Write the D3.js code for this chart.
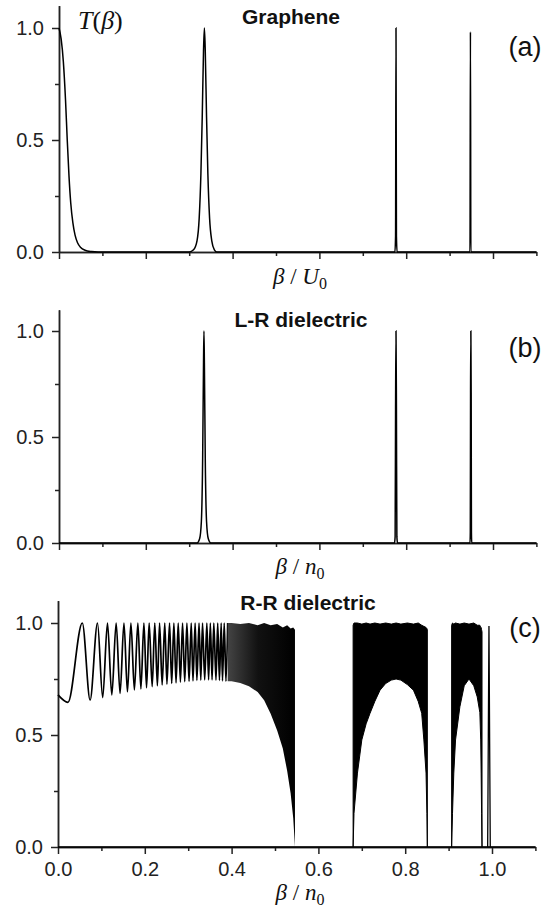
<!DOCTYPE html>
<html>
<head>
<meta charset="utf-8">
<script src="https://cdn.jsdelivr.net/npm/d3@7"></script>
<style>
  body { margin: 0; background: #fff; }
  svg { display: block; }
</style>
</head>
<body>
<div id="chart"></div>
<script>
// ---- data: [beta, T] ----
const grapheneCurve = [
  [0, 1], [0.005, 0.95], [0.01, 0.85], [0.015, 0.68], [0.019, 0.5], [0.023, 0.34],
  [0.027, 0.22], [0.032, 0.13], [0.037, 0.075], [0.043, 0.04], [0.05, 0.02],
  [0.06, 0.008], [0.075, 0.002], [0.09, 0],
  [0.30, 0], [0.31, 0.01], [0.318, 0.05], [0.323, 0.15], [0.327, 0.35], [0.330, 0.6],
  [0.333, 0.9], [0.335, 1.0], [0.337, 0.9], [0.340, 0.6], [0.343, 0.35], [0.347, 0.15],
  [0.352, 0.05], [0.358, 0.01], [0.364, 0],
  [0.774, 0], [0.7755, 0.07], [0.7765, 1.0], [0.7775, 0.07], [0.779, 0],
  [0.947, 0], [0.948, 0.983], [0.949, 0], [1.1, 0]
];

const lrCurve = [
  [0, 0], [0.318, 0], [0.324, 0.02], [0.328, 0.1], [0.331, 0.4], [0.333, 0.85],
  [0.334, 1.0], [0.335, 0.85], [0.337, 0.4], [0.340, 0.1], [0.344, 0.02], [0.350, 0],
  [0.773, 0], [0.7745, 0.03], [0.7755, 0.63], [0.7765, 1.0], [0.7775, 0.63],
  [0.7785, 0.03], [0.780, 0],
  [0.947, 0], [0.9477, 0.05], [0.9483, 0.71], [0.949, 1.0], [0.9497, 0.71],
  [0.9503, 0.05], [0.951, 0], [1.1, 0]
];

// R-R dielectric: resolved oscillations (maxima all reach T = 1)
const rrStart = [0, 0.679];
const rrPeaks = [
  0.056, 0.091, 0.114, 0.134, 0.152, 0.168, 0.184, 0.198, 0.210, 0.223,
  0.234, 0.246, 0.257, 0.267, 0.277, 0.287, 0.297, 0.307, 0.316, 0.325,
  0.333, 0.343, 0.351, 0.359, 0.368, 0.376, 0.383, 0.391
];
const rrTroughs = [
  [0.023, 0.646], [0.074, 0.656], [0.103, 0.667], [0.124, 0.679], [0.143, 0.686],
  [0.160, 0.693], [0.176, 0.701], [0.191, 0.706], [0.204, 0.711], [0.217, 0.716],
  [0.229, 0.720], [0.240, 0.724], [0.251, 0.727], [0.262, 0.730], [0.272, 0.733],
  [0.282, 0.736], [0.292, 0.738], [0.302, 0.740], [0.311, 0.742], [0.320, 0.744],
  [0.329, 0.745], [0.338, 0.746], [0.347, 0.746], [0.355, 0.746], [0.364, 0.745],
  [0.372, 0.744], [0.379, 0.742], [0.387, 0.740]
];

// dense bands: [beta, lower envelope, upper envelope]
const rrBand1 = [
  [0.391, 0.740, 1.0], [0.40, 0.740, 1.0], [0.42, 0.732, 0.995], [0.44, 0.718, 1.0],
  [0.46, 0.692, 0.99], [0.475, 0.655, 1.0], [0.49, 0.595, 0.99], [0.505, 0.52, 0.995],
  [0.518, 0.44, 0.98], [0.528, 0.34, 0.99], [0.536, 0.24, 0.975], [0.542, 0.13, 0.98],
  [0.546, 0, 0.97]
];
const rrBand2 = [
  [0.680, 0, 0.99], [0.682, 0.15, 1.0], [0.690, 0.33, 1.0], [0.700, 0.478, 0.995],
  [0.710, 0.55, 1.0], [0.719, 0.597, 0.995], [0.730, 0.65, 1.0], [0.742, 0.70, 0.995],
  [0.755, 0.73, 1.0], [0.768, 0.745, 0.995], [0.779, 0.75, 1.0], [0.790, 0.745, 0.995],
  [0.805, 0.725, 1.0], [0.819, 0.70, 0.995], [0.830, 0.65, 1.0], [0.838, 0.597, 0.99],
  [0.843, 0.478, 0.985], [0.848, 0.33, 0.98], [0.850, 0.15, 0.975], [0.851, 0, 0.97]
];
const rrBand3 = [
  [0.907, 0, 0.99], [0.909, 0.15, 1.0], [0.912, 0.33, 0.995], [0.916, 0.478, 1.0],
  [0.926, 0.626, 0.995], [0.936, 0.72, 1.0], [0.947, 0.75, 0.995], [0.958, 0.72, 1.0],
  [0.966, 0.67, 0.99], [0.972, 0.60, 0.99], [0.974, 0.478, 0.98], [0.975, 0.33, 0.98],
  [0.976, 0.15, 0.97], [0.977, 0, 0.96]
];
const rrSpike = [[0.990, 0], [0.993, 0.987], [0.996, 0]];
const rrBaseline = [[0, 0], [1.1, 0]];

// ticks
const xMajor = [0, 0.2, 0.4, 0.6, 0.8, 1.0];
const xMinor = [0.1, 0.3, 0.5, 0.7, 0.9, 1.1];
const yMajor = [0, 0.5, 1.0];
const yMinor = [0.25, 0.75];

// ---- layout ----
const W = 560, H = 909;
const svg = d3.select("#chart").append("svg")
  .attr("width", W).attr("height", H)
  .style("background", "#fff");

// grey-to-black fill for the first dense band (lines still resolved on its left)
const grad = svg.append("defs").append("linearGradient")
  .attr("id", "band1fill").attr("x1", "0").attr("x2", "1").attr("y1", "0").attr("y2", "0");
grad.append("stop").attr("offset", "0").attr("stop-color", "#444");
grad.append("stop").attr("offset", "0.45").attr("stop-color", "#111");
grad.append("stop").attr("offset", "1").attr("stop-color", "#000");

const panels = [
  { left: 59, base: 252, unit: 224, title: "Graphene", titleX: 291, titleY: 24,
    tag: "(a)", tagY: 56, xVar: "U", xLabelY: 284, labels: false },
  { left: 59, base: 543, unit: 212, title: "L-R dielectric", titleX: 301, titleY: 327,
    tag: "(b)", tagY: 357, xVar: "n", xLabelY: 574, labels: false },
  { left: 58, base: 847, unit: 224, title: "R-R dielectric", titleX: 308, titleY: 610,
    tag: "(c)", tagY: 637, xVar: "n", xLabelY: 900, labels: true }
];

const fmt = d3.format(".1f");

function styleAxis(g, fontSize) {
  g.select(".domain").attr("stroke", "#222").attr("stroke-width", 1.5);
  g.selectAll(".tick line").attr("stroke", "#222").attr("stroke-width", 1.5);
  g.selectAll(".tick text")
    .attr("fill", "#222")
    .style("font-family", "'Liberation Sans', Arial, sans-serif")
    .style("font-size", fontSize + "px");
}

function drawPanel(p) {
  const x = d3.scaleLinear().domain([0, 1.1]).range([p.left, p.left + 1.1 * 434]);
  const y = d3.scaleLinear().domain([0, 1.1]).range([p.base, p.base - 1.1 * p.unit]);
  const g = svg.append("g");

  // minor ticks first, major axes on top
  g.append("g").attr("transform", `translate(0,${p.base})`)
    .call(d3.axisBottom(x).tickValues(xMinor).tickSize(4).tickSizeOuter(0).tickFormat(""))
    .call(ax => styleAxis(ax, 20));
  g.append("g").attr("transform", `translate(${p.left},0)`)
    .call(d3.axisLeft(y).tickValues(yMinor).tickSize(4).tickSizeOuter(0).tickFormat(""))
    .call(ax => styleAxis(ax, 20));

  g.append("g").attr("transform", `translate(0,${p.base})`)
    .call(d3.axisBottom(x).tickValues(xMajor).tickSize(7).tickSizeOuter(0).tickPadding(8)
      .tickFormat(p.labels ? fmt : ""))
    .call(ax => styleAxis(ax, 20));
  g.append("g").attr("transform", `translate(${p.left},0)`)
    .call(d3.axisLeft(y).tickValues(yMajor).tickSize(7).tickSizeOuter(0).tickPadding(8)
      .tickFormat(fmt))
    .call(ax => styleAxis(ax, 20));

  // panel title
  g.append("text")
    .attr("x", p.titleX).attr("y", p.titleY)
    .attr("text-anchor", "middle")
    .style("font-family", "'Liberation Sans', Arial, sans-serif")
    .style("font-weight", "bold").style("font-size", "21px")
    .attr("fill", "#111")
    .text(p.title);

  // panel tag
  g.append("text")
    .attr("x", 525).attr("y", p.tagY)
    .attr("text-anchor", "middle")
    .style("font-family", "'Liberation Sans', Arial, sans-serif")
    .style("font-size", "27px")
    .attr("fill", "#111")
    .text(p.tag);

  // x axis label  beta / U0  or  beta / n0
  const t = g.append("text")
    .attr("x", 300).attr("y", p.xLabelY)
    .attr("text-anchor", "middle")
    .style("font-family", "'Liberation Serif', 'Times New Roman', serif")
    .style("font-size", "23px")
    .attr("fill", "#111");
  t.append("tspan").style("font-style", "italic").text("β");
  t.append("tspan").text(" / ");
  t.append("tspan").style("font-style", "italic").text(p.xVar);
  t.append("tspan").attr("dy", 5).style("font-size", "16px").text("0");

  return { g, x, y };
}

const [pa, pb, pc] = panels.map(drawPanel);

function lineFor(P, curve) {
  return d3.line().x(d => P.x(d[0])).y(d => P.y(d[1])).curve(curve);
}

// (a) graphene
pa.g.append("path").datum(grapheneCurve)
  .attr("d", lineFor(pa, d3.curveMonotoneX))
  .attr("fill", "none").attr("stroke", "#000").attr("stroke-width", 1.5);

// T(beta) label: italic letters, upright brackets
const tl = pa.g.append("text")
  .attr("x", 78).attr("y", 29)
  .style("font-family", "'Liberation Serif', 'Times New Roman', serif")
  .style("font-size", "26px")
  .attr("fill", "#111");
tl.append("tspan").style("font-style", "italic").text("T");
tl.append("tspan").text("(");
tl.append("tspan").style("font-style", "italic").text("β");
tl.append("tspan").text(")");

// (b) L-R dielectric
pb.g.append("path").datum(lrCurve)
  .attr("d", lineFor(pb, d3.curveMonotoneX))
  .attr("fill", "none").attr("stroke", "#000").attr("stroke-width", 1.5);

// (c) R-R dielectric: resolved oscillations
const rrResolved = [rrStart];
rrPeaks.forEach((b, i) => {
  rrResolved.push(rrTroughs[i]);
  rrResolved.push([b, 1]);
});

pc.g.append("path").datum(rrBaseline)
  .attr("d", lineFor(pc, d3.curveLinear))
  .attr("fill", "none").attr("stroke", "#000").attr("stroke-width", 1.4);

pc.g.append("path").datum(rrResolved)
  .attr("d", lineFor(pc, d3.curveMonotoneX))
  .attr("fill", "none").attr("stroke", "#000").attr("stroke-width", 1.7);

// dense bands drawn as filled envelopes
const band = d3.area()
  .x(d => pc.x(d[0]))
  .y0(d => pc.y(d[1]))
  .y1(d => pc.y(d[2]))
  .curve(d3.curveLinear);

[rrBand1, rrBand2, rrBand3].forEach((b, i) => {
  pc.g.append("path").datum(b)
    .attr("d", band)
    .attr("fill", i === 0 ? "url(#band1fill)" : "#000")
    .attr("stroke", i === 0 ? "none" : "#000").attr("stroke-width", 1);
});

pc.g.append("path").datum(rrSpike)
  .attr("d", lineFor(pc, d3.curveLinear))
  .attr("fill", "none").attr("stroke", "#000").attr("stroke-width", 1.3);
</script>
</body>
</html>
